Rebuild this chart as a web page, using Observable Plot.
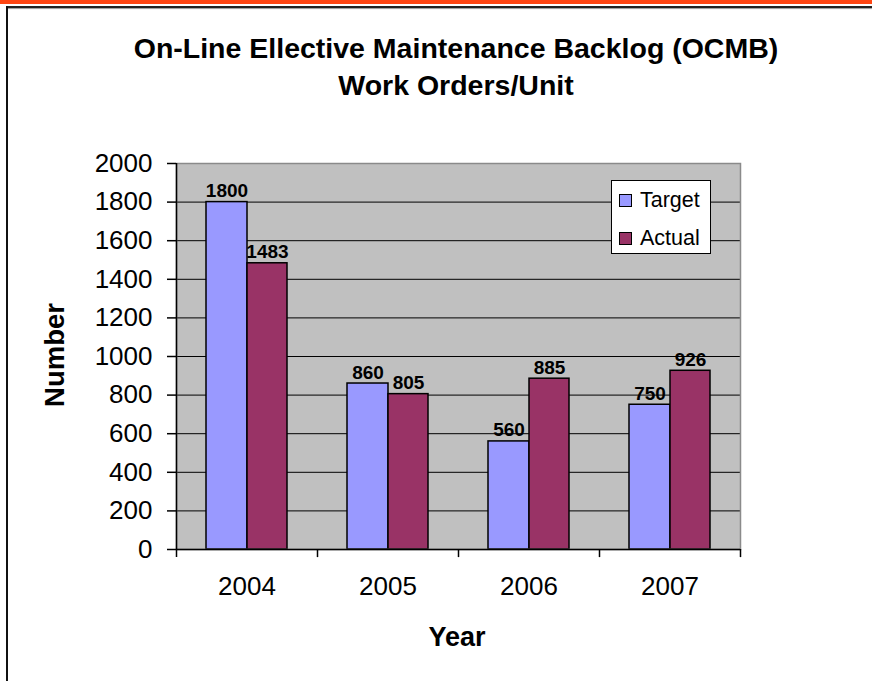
<!DOCTYPE html>
<html>
<head>
<meta charset="utf-8">
<script src="https://cdn.jsdelivr.net/npm/d3@7"></script>
<script src="https://cdn.jsdelivr.net/npm/@observablehq/plot@0.6"></script>
<style>
  html, body { margin: 0; padding: 0; background: #fff; }
  #wrap { position: relative; width: 872px; height: 681px; overflow: hidden; font-family: Arial, "Liberation Sans", sans-serif; }
  #chart { position: absolute; left: 0; top: 0; }
  .abs { position: absolute; }
  #topline { left: 0; top: 0; width: 872px; height: 4px; background: #FF4512; }
  #frameTop { left: 7px; top: 6px; width: 865px; height: 2px; background: #222; box-shadow: 0 1px 1px #999; }
  #frameLeft { left: 6px; top: 6px; width: 2px; height: 675px; background: #111; }
  #title { left: 456px; top: 30px; transform: translateX(-50%); white-space: nowrap; text-align: center; font-weight: bold; font-size: 28.5px; line-height: 37px; color: #000; }
  #ylabel { left: 55px; top: 355px; transform: translate(-50%, -50%) rotate(-90deg); font-weight: bold; font-size: 27.5px; white-space: nowrap; }
  #xlabel { left: 457px; top: 637px; transform: translate(-50%, -50%); font-weight: bold; font-size: 27px; }
  #legend { left: 611px; top: 180px; width: 98px; height: 72px; background: #fff; border: 1px solid #000; font-size: 21.5px; }
  .item { position: absolute; left: 7px; height: 26px; display: flex; align-items: center; }
  .sw { width: 11px; height: 11px; border: 1px solid #000; margin-right: 8px; }
</style>
</head>
<body>
<div id="wrap">
  <div id="chart"></div>
  <div class="abs" id="topline"></div>
  <div class="abs" id="frameTop"></div>
  <div class="abs" id="frameLeft"></div>
  <div class="abs" id="title">On-Line Ellective Maintenance Backlog (OCMB)<br>Work Orders/Unit</div>
  <div class="abs" id="ylabel">Number</div>
  <div class="abs" id="xlabel">Year</div>
  <div class="abs" id="legend"></div>
</div>
<script>
const years = ["2004", "2005", "2006", "2007"];
const target = [1800, 860, 560, 750];
const actual = [1483, 805, 885, 926];
const yTicks = [0, 200, 400, 600, 800, 1000, 1200, 1400, 1600, 1800, 2000];
const seriesNames = ["Target", "Actual"];
const seriesColors = ["#9999FF", "#993366"];

const rows = years.map((year, i) => ({year, target: target[i], actual: actual[i]}));

const chart = Plot.plot({
  width: 872,
  height: 681,
  marginTop: 163,
  marginLeft: 176,
  marginRight: 132,
  marginBottom: 132,
  style: {fontFamily: "Arial, 'Liberation Sans', sans-serif", background: "transparent", color: "#000"},
  x: {type: "band", domain: years, paddingInner: 0, paddingOuter: 0, axis: null},
  y: {domain: [0, 2000], axis: null},
  marks: [
    Plot.frame({fill: "#C0C0C0", stroke: null}),
    Plot.ruleY(yTicks.filter(d => d > 0 && d < 2000), {stroke: "#000", strokeWidth: 1}),
    Plot.barY(rows, {x: "year", y: "target", fill: seriesColors[0], stroke: "#000", strokeWidth: 1.5, insetLeft: 30, insetRight: 70}),
    Plot.barY(rows, {x: "year", y: "actual", fill: seriesColors[1], stroke: "#000", strokeWidth: 1.5, insetLeft: 71, insetRight: 30}),
    Plot.text(rows, {x: "year", y: "target", text: d => String(d.target), dx: -20, dy: -5, lineAnchor: "bottom", fontWeight: "bold", fontSize: 19, fill: "#000"}),
    Plot.text(rows, {x: "year", y: "actual", text: d => String(d.actual), dx: 20.5, dy: -5, lineAnchor: "bottom", fontWeight: "bold", fontSize: 19, fill: "#000"}),
    Plot.frame({stroke: "#8a8a8a", strokeWidth: 1.5, fill: null}),
    Plot.ruleY([0], {stroke: "#000", strokeWidth: 1.5}),
    Plot.ruleX([years[0]], {dx: -70.5, y1: 2000, y2: -42, stroke: "#000", strokeWidth: 1.5}),
    Plot.ruleX(years.slice(1), {dx: -70.5, y1: 0, y2: -42, stroke: "#000", strokeWidth: 1.5}),
    Plot.ruleX([years[years.length - 1]], {dx: 70.5, y1: 0, y2: -42, stroke: "#000", strokeWidth: 1.5}),
    Plot.axisY({ticks: yTicks, tickSize: 9, tickPadding: 15, fontSize: 26, tickFormat: d => String(d), label: null, strokeWidth: 1.5}),
    Plot.axisX({tickSize: 0, tickPadding: 27, fontSize: 26, label: null})
  ]
});
document.getElementById("chart").appendChild(chart);

const legend = document.getElementById("legend");
seriesNames.forEach((name, i) => {
  const item = document.createElement("div");
  item.className = "item";
  item.style.top = (6 + i * 38) + "px";
  const sw = document.createElement("div");
  sw.className = "sw";
  sw.style.background = seriesColors[i];
  const label = document.createElement("span");
  label.textContent = name;
  item.appendChild(sw);
  item.appendChild(label);
  legend.appendChild(item);
});
</script>
</body>
</html>
